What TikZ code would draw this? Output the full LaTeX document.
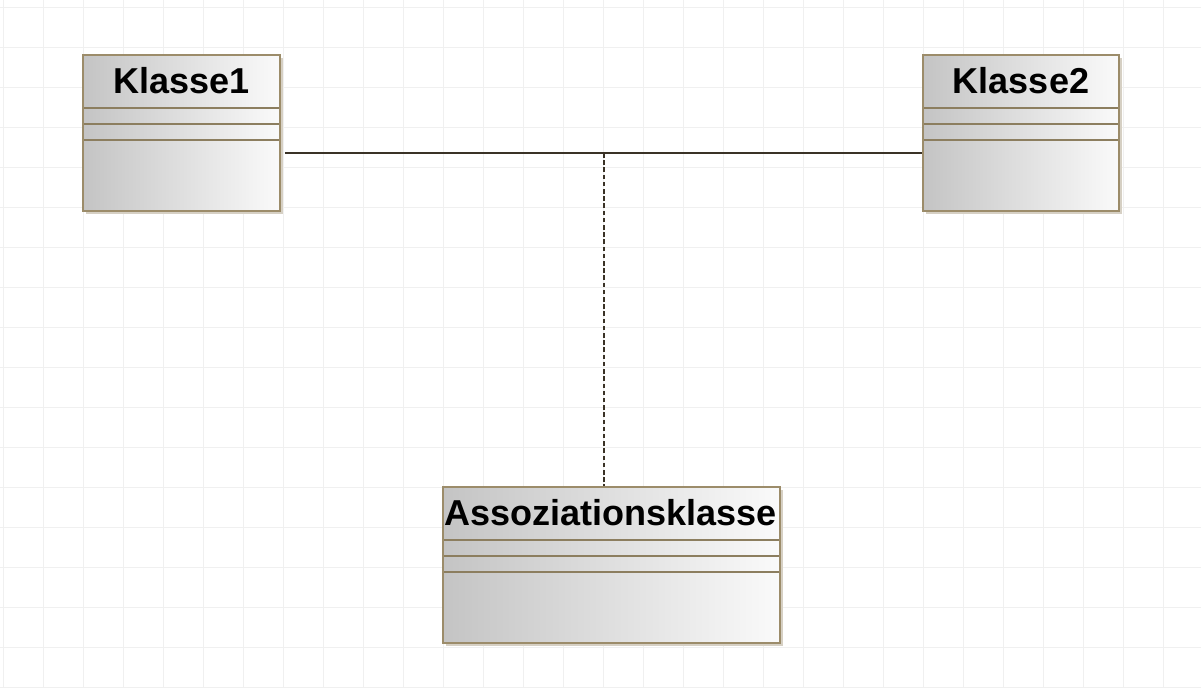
\documentclass[tikz,border=0pt]{standalone}
\usepackage{fontspec}
\setmainfont{Liberation Sans}
\usetikzlibrary{calc,shadows}
\definecolor{umlrand}{HTML}{9C8C6A}
\definecolor{umlschatten}{HTML}{D6D0C4}
\definecolor{umlgrau}{HTML}{C4C4C4}
\definecolor{umlhell}{HTML}{FAFAFA}
\definecolor{linie}{HTML}{3A3226}
\definecolor{raster}{HTML}{F0F0F0}

\begin{document}
\begin{tikzpicture}[x=0.02cm,y=-0.02cm,
  raster/.style={draw=raster,line width=0.4pt},
  umlklasse/.style={rectangle,draw=umlrand,line width=1.1pt,left color=umlgrau,right color=umlhell,
    inner sep=0pt,minimum height=3.12cm,
    drop shadow={shadow xshift=1.7pt,shadow yshift=-1.7pt,fill=umlschatten,opacity=1}},
  titel/.style={anchor=base,inner sep=0pt,font=\fontsize{20.5}{24}\selectfont\bfseries},
  trenner/.style={draw=umlrand!90!black,line width=0.7pt},
  assoz/.style={draw=linie,line width=1.1pt},
  gestrichelt/.style={dash pattern=on 2.6pt off 1.5pt}]
\useasboundingbox (0,0) rectangle (1201,688);
\fill[white] (0,0) rectangle (1201,688);
\foreach \x in {3,43,...,1201} \draw[raster] (\x,0) -- (\x,688);
\foreach \y in {7,47,...,688} \draw[raster] (0,\y) -- (1201,\y);

\node[umlklasse,minimum width=3.94cm] (k1) at (181.5,133) {};
\node[umlklasse,minimum width=3.92cm] (k2) at (1021,133) {};
\node[umlklasse,minimum width=6.74cm] (ak) at (611.5,565) {};

\node[titel] (k1titel) at ($(k1.north)+(0,39)$) {Klasse1};
\node[titel] (k2titel) at ($(k2.north)+(0,39)$) {Klasse2};
\node[titel] (aktitel) at ($(ak.north)+(-1,39)$) {Assoziationsklasse};

% Trennlinien der Abschnitte
\foreach \k in {k1,k2,ak}
  \foreach \dy in {54,70,86}
    \draw[trenner] ($(\k.north west)+(2,\dy)$) -- ($(\k.north east)+(-2,\dy)$);

% Assoziation mit Assoziationsklasse
\coordinate (m) at (604,153);
\draw[assoz] ($(k1.east)+(4,20)$) -- ($(k2.west)+(0,20)$);
\draw[assoz,gestrichelt] (m) -- (m |- ak.north);
\end{tikzpicture}
\end{document}
